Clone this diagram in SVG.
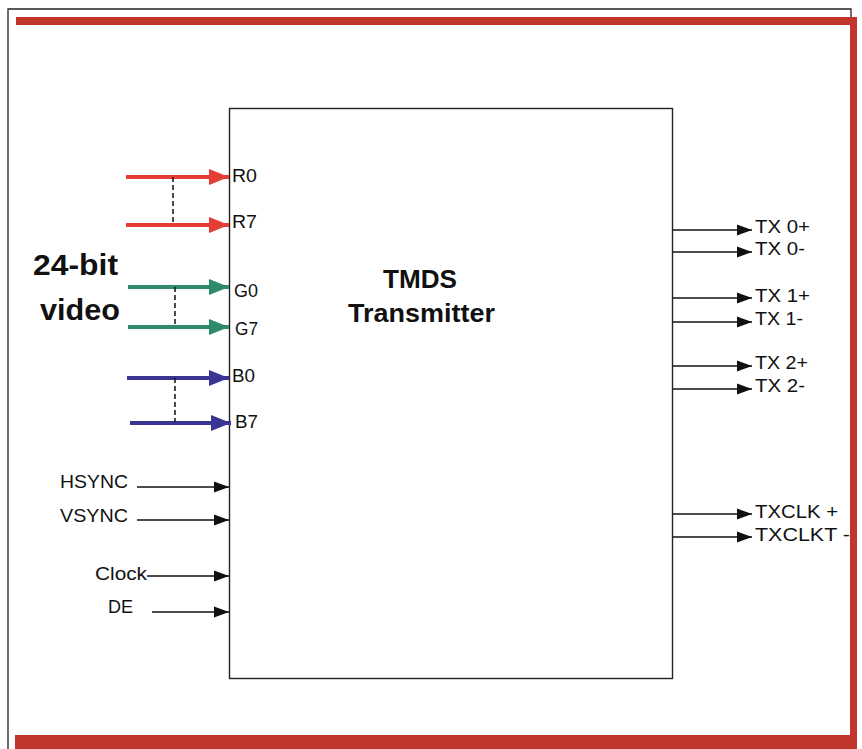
<svg xmlns="http://www.w3.org/2000/svg" width="862" height="749" viewBox="0 0 862 749">
<defs>
<marker id="ah" markerUnits="userSpaceOnUse" markerWidth="16" markerHeight="12" refX="15" refY="6" orient="auto"><path d="M0,0.5 L15,6 L0,11.5 Z" fill="#111"/></marker>
<marker id="ahR" markerUnits="userSpaceOnUse" markerWidth="21" markerHeight="16" refX="20" refY="8" orient="auto"><path d="M0,0 L20,8 L0,16 Z" fill="#e33d35"/></marker>
<marker id="ahG" markerUnits="userSpaceOnUse" markerWidth="21" markerHeight="16" refX="20" refY="8" orient="auto"><path d="M0,0 L20,8 L0,16 Z" fill="#2f8a6c"/></marker>
<marker id="ahB" markerUnits="userSpaceOnUse" markerWidth="21" markerHeight="16" refX="20" refY="8" orient="auto"><path d="M0,0 L20,8 L0,16 Z" fill="#3a3592"/></marker>
</defs>
<style>
.lbl{font-family:"Liberation Sans",Arial,sans-serif;font-size:18px;fill:#111}
.big{font-family:"Liberation Sans",Arial,sans-serif;font-size:29px;font-weight:bold;fill:#111}
.ttl{font-family:"Liberation Sans",Arial,sans-serif;font-size:25px;font-weight:bold;fill:#111}
.blk{stroke:#111;stroke-width:1.4;fill:none;marker-end:url(#ah)}
.red{stroke:#e33d35;stroke-width:4;fill:none;marker-end:url(#ahR)}
.grn{stroke:#2f8a6c;stroke-width:4;fill:none;marker-end:url(#ahG)}
.blu{stroke:#3a3592;stroke-width:4;fill:none;marker-end:url(#ahB)}
.dsh{stroke:#111;stroke-width:1.5;stroke-dasharray:5 3;fill:none}
.frm{fill:#c1352d}
</style>
<rect width="862" height="749" fill="#fff"/>
<g id="frame">
<path d="M8,749 L8,9 L851,9 L851,17" stroke="#222" stroke-width="1.3" fill="none"/>
<rect class="frm" x="16" y="17" width="841" height="8"/>
<rect class="frm" x="850" y="17" width="7" height="732"/>
<rect class="frm" x="15" y="735" width="842" height="14"/>
</g>
<g id="tmds">
<rect x="229.5" y="108.5" width="443" height="570" fill="#fff" stroke="#222" stroke-width="1.4"/>
<text class="ttl" x="383" y="288" textLength="74" lengthAdjust="spacingAndGlyphs">TMDS</text>
<text class="ttl" x="348" y="322" textLength="147" lengthAdjust="spacingAndGlyphs">Transmitter</text>
</g>
<g id="video-label">
<text class="big" x="33" y="275" textLength="85" lengthAdjust="spacingAndGlyphs">24-bit</text>
<text class="big" x="40" y="320" textLength="80" lengthAdjust="spacingAndGlyphs">video</text>
</g>
<g id="connectors">
<line class="red" x1="126" y1="177" x2="229" y2="177"/>
<line class="red" x1="126" y1="225" x2="229" y2="225"/>
<line class="dsh" x1="173" y1="177" x2="173" y2="224"/>
<line class="grn" x1="128" y1="287" x2="229" y2="287"/>
<line class="grn" x1="128" y1="327" x2="229" y2="327"/>
<line class="dsh" x1="175" y1="287" x2="175" y2="327"/>
<line class="blu" x1="127" y1="378" x2="229" y2="378"/>
<line class="blu" x1="130" y1="423" x2="231" y2="423"/>
<line class="dsh" x1="175" y1="378" x2="175" y2="422"/>
<line class="blk" x1="137" y1="487" x2="229" y2="487"/>
<line class="blk" x1="137" y1="520" x2="229" y2="520"/>
<line class="blk" x1="147" y1="576" x2="229" y2="576"/>
<line class="blk" x1="152" y1="612" x2="229" y2="612"/>
<line class="blk" x1="673" y1="230" x2="752" y2="230"/>
<line class="blk" x1="673" y1="252" x2="752" y2="252"/>
<line class="blk" x1="673" y1="298" x2="752" y2="298"/>
<line class="blk" x1="673" y1="322" x2="752" y2="322"/>
<line class="blk" x1="673" y1="366" x2="752" y2="366"/>
<line class="blk" x1="673" y1="389" x2="752" y2="389"/>
<line class="blk" x1="673" y1="514" x2="752" y2="514"/>
<line class="blk" x1="673" y1="537" x2="752" y2="537"/>
</g>
<g id="inputs">
<text class="lbl" x="232" y="182" textLength="25" lengthAdjust="spacingAndGlyphs">R0</text>
<text class="lbl" x="232" y="228" textLength="25" lengthAdjust="spacingAndGlyphs">R7</text>
<text class="lbl" x="234" y="297" textLength="24" lengthAdjust="spacingAndGlyphs">G0</text>
<text class="lbl" x="235" y="335" textLength="23" lengthAdjust="spacingAndGlyphs">G7</text>
<text class="lbl" x="232" y="382" textLength="23" lengthAdjust="spacingAndGlyphs">B0</text>
<text class="lbl" x="235" y="428" textLength="23" lengthAdjust="spacingAndGlyphs">B7</text>
<text class="lbl" x="60" y="488" textLength="68" lengthAdjust="spacingAndGlyphs">HSYNC</text>
<text class="lbl" x="60" y="522" textLength="68" lengthAdjust="spacingAndGlyphs">VSYNC</text>
<text class="lbl" x="95" y="580" textLength="52" lengthAdjust="spacingAndGlyphs">Clock</text>
<text class="lbl" x="108" y="613" textLength="25" lengthAdjust="spacingAndGlyphs">DE</text>
</g>
<g id="outputs">
<text class="lbl" x="755" y="233" textLength="55" lengthAdjust="spacingAndGlyphs">TX 0+</text>
<text class="lbl" x="755" y="255" textLength="50" lengthAdjust="spacingAndGlyphs">TX 0-</text>
<text class="lbl" x="755" y="302" textLength="55" lengthAdjust="spacingAndGlyphs">TX 1+</text>
<text class="lbl" x="755" y="325" textLength="48" lengthAdjust="spacingAndGlyphs">TX 1-</text>
<text class="lbl" x="755" y="369" textLength="53" lengthAdjust="spacingAndGlyphs">TX 2+</text>
<text class="lbl" x="755" y="392" textLength="50" lengthAdjust="spacingAndGlyphs">TX 2-</text>
<text class="lbl" x="755" y="518" textLength="83" lengthAdjust="spacingAndGlyphs">TXCLK +</text>
<text class="lbl" x="755" y="541" textLength="95" lengthAdjust="spacingAndGlyphs">TXCLKT -</text>
</g>
</svg>
